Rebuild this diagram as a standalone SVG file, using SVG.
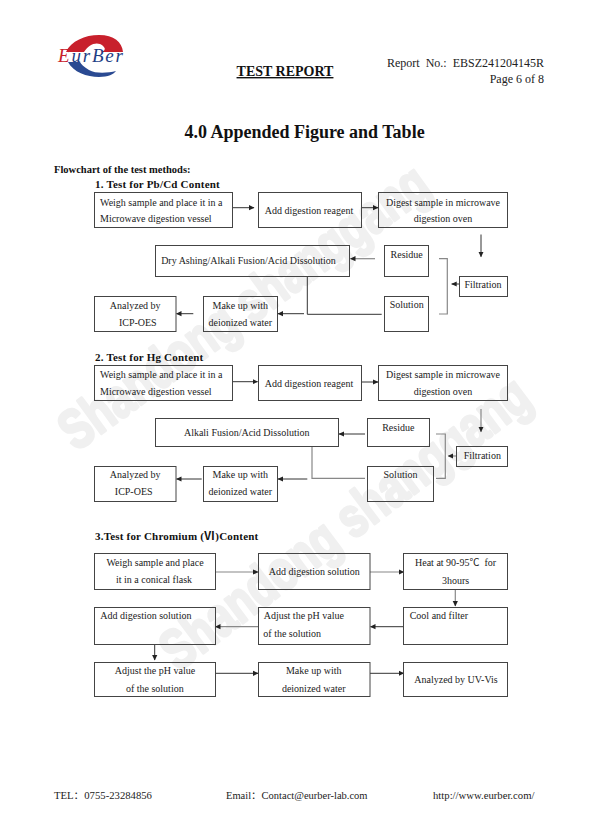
<svg xmlns="http://www.w3.org/2000/svg" width="590" height="836" viewBox="0 0 590 836">
<style>
text{font-family:"Liberation Serif","Noto Sans CJK SC",serif;fill:#222;white-space:pre}
.n text{font-size:10px}
.m{text-anchor:middle}
.n rect{fill:none;stroke:#444;stroke-width:1}
.h{font-weight:bold;font-size:11px;fill:#111;letter-spacing:.2px}
.wm{font-family:"Liberation Sans",sans-serif;font-weight:bold;font-size:56px;fill:#f0f0f0;stroke:#f0f0f0;stroke-width:3;stroke-linejoin:round}
#connectors path{fill:none;stroke:#333;stroke-width:1}
#connectors .a{marker-end:url(#ah)}
#connectors .g{stroke:#888;stroke-width:1.2}
</style>
<defs>
<marker id="ah" markerUnits="userSpaceOnUse" markerWidth="6" markerHeight="6" refX="5" refY="3" orient="auto"><path d="M0,0.400L5.500,3L0,5.600Z" fill="#222"/></marker>
</defs>
<rect width="590" height="836" fill="#fff"/>
<g id="watermark">
<text class="wm" transform="translate(76,452) rotate(-36)" textLength="442" lengthAdjust="spacingAndGlyphs">Shandong shanggang</text>
<text class="wm" transform="translate(178,672) rotate(-37)" textLength="446" lengthAdjust="spacingAndGlyphs">Shandong shanggang</text>
</g>
<g id="logo">
<path d="M66,52C71,41 85,35 99,35C114,35 122,42 123,52L101,52C108,50 104,46 100,44C95,42 88,45 84,52Z" fill="#c8202c"/>
<path d="M68,62C73,72 87,77 99,77C108,77 114,74 116,71C108,73 96,74 89,70C84,67 81,64 80,62Z" fill="#2a4a92"/>
<text x="58" y="62" style="font-size:19px;font-style:italic;fill:#1f3f86;letter-spacing:1.800px"><tspan style="fill:#c8202c">E</tspan>urBer</text>
</g>
<g id="header">
<text x="285" y="76" class="m" style="font-size:14px;font-weight:bold;text-decoration:underline;fill:#111">TEST REPORT</text>
<text x="544" y="67" text-anchor="end" style="font-size:12px">Report  No.:  EBSZ241204145R</text>
<text x="544" y="83" text-anchor="end" style="font-size:12px">Page 6 of 8</text>
<text x="304.500" y="138" class="m" style="font-size:18px;font-weight:bold;fill:#111">4.0 Appended Figure and Table</text>
<text x="54" y="173" style="font-size:10.500px;font-weight:bold;fill:#111">Flowchart of the test methods:</text>
<text x="95" y="188" class="h">1. Test for Pb/Cd Content</text>
<text x="95" y="361" class="h">2. Test for Hg Content</text>
<text x="95" y="540" class="h">3.Test for Chromium (Ⅵ)Content</text>
</g>
<g id="connectors">
<path class="a" d="M232.300,207.700H254"/>
<path class="a" d="M361.700,207.700H378"/>
<path class="a" d="M481,234.500V256.700"/>
<path class="a g" d="M375,258.700H350.500"/>
<path class="g" d="M439,258.700H447.300V314H439"/>
<path class="a" d="M459.300,284H451.700"/>
<path d="M381.700,314.300H307.300V276.300"/>
<path class="a" d="M304,313.700H278"/>
<path class="a" d="M193.300,313.700H176.500"/>
<path class="a" d="M232.300,381.700H257.500"/>
<path class="a" d="M361.700,382H378"/>
<path class="a g" d="M481,409V431.700"/>
<path class="a" d="M365,434H339"/>
<path class="g" d="M436,434H445.300V478.300H436"/>
<path class="a g" d="M456.700,456H448.300"/>
<path class="g" d="M365,478.300H312V446.300"/>
<path class="a" d="M307.300,479H278"/>
<path class="a" d="M201.700,479H176.500"/>
<path class="a g" d="M215.300,572H258"/>
<path class="a g" d="M370,572H403.700"/>
<path class="a g" d="M455.300,590V606"/>
<path class="a" d="M403.700,626.700H370.500"/>
<path class="a g" d="M258,626.700H215.500"/>
<path class="a" d="M154.700,644.700V660"/>
<path class="a" d="M215.300,673.300H258"/>
<path class="a" d="M370,673.300H403.700"/>
</g>
<g id="s1-weigh" class="n"><rect x="94.500" y="192.500" width="138" height="35"/><text x="100" y="205.700">Weigh sample and place it in a</text><text x="100" y="222.300">Microwave digestion vessel</text></g>
<g id="s1-reagent" class="n"><rect x="258.500" y="192.500" width="103" height="35"/><text x="309" y="214.300" class="m">Add digestion reagent</text></g>
<g id="s1-digest" class="n"><rect x="378.500" y="192.500" width="129" height="35"/><text x="443" y="205.700" class="m">Digest sample in microwave</text><text x="443" y="222.300" class="m">digestion oven</text></g>
<g id="s1-dry" class="n"><rect x="155.500" y="245.500" width="194" height="31"/><text x="248.500" y="264.300" class="m">Dry Ashing/Alkali Fusion/Acid Dissolution</text></g>
<g id="s1-residue" class="n"><rect x="384.500" y="245.500" width="44" height="31"/><text x="406.700" y="257.700" class="m">Residue</text></g>
<g id="s1-filtration" class="n"><rect x="459.500" y="276.500" width="48" height="20"/><text x="483" y="288.300" class="m">Filtration</text></g>
<g id="s1-solution" class="n"><rect x="384.500" y="296.500" width="44" height="35"/><text x="406.700" y="308.300" class="m">Solution</text></g>
<g id="s1-makeup" class="n"><rect x="203.500" y="296.500" width="74" height="35"/><text x="240.300" y="308.700" class="m">Make up with</text><text x="240.300" y="325.700" class="m">deionized water</text></g>
<g id="s1-icp" class="n"><rect x="94.500" y="296.500" width="81.500" height="35"/><text x="135.200" y="308.700" class="m">Analyzed by</text><text x="137.800" y="325.700" class="m">ICP-OES</text></g>
<g id="s2-weigh" class="n"><rect x="94.500" y="365.500" width="138" height="35"/><text x="100" y="378.300">Weigh sample and place it in a</text><text x="100" y="395">Microwave digestion vessel</text></g>
<g id="s2-reagent" class="n"><rect x="258.500" y="365.500" width="103" height="35"/><text x="309" y="386.700" class="m">Add digestion reagent</text></g>
<g id="s2-digest" class="n"><rect x="378.500" y="365.500" width="129" height="35"/><text x="443" y="378.300" class="m">Digest sample in microwave</text><text x="443" y="395" class="m">digestion oven</text></g>
<g id="s2-fusion" class="n"><rect x="155.500" y="418.500" width="183" height="28"/><text x="246.700" y="435.700" class="m">Alkali Fusion/Acid Dissolution</text></g>
<g id="s2-residue" class="n"><rect x="367.500" y="418.500" width="62" height="28"/><text x="398.300" y="431" class="m">Residue</text></g>
<g id="s2-filtration" class="n"><rect x="456.500" y="446.500" width="51" height="20"/><text x="482.300" y="458.700" class="m">Filtration</text></g>
<g id="s2-solution" class="n"><rect x="367.500" y="466.500" width="66" height="35"/><text x="400.500" y="478.300" class="m">Solution</text></g>
<g id="s2-makeup" class="n"><rect x="203.500" y="466.500" width="74" height="35"/><text x="240.300" y="478.300" class="m">Make up with</text><text x="240.300" y="495.300" class="m">deionized water</text></g>
<g id="s2-icp" class="n"><rect x="94.500" y="466.500" width="81.500" height="35"/><text x="135.200" y="478.300" class="m">Analyzed by</text><text x="133.700" y="495.300" class="m">ICP-OES</text></g>
<g id="s3-weigh" class="n"><rect x="94.500" y="553.500" width="121" height="36"/><text x="155" y="566" class="m">Weigh sample and place</text><text x="154" y="583.300" class="m">it in a conical flask</text></g>
<g id="s3-add" class="n"><rect x="258.500" y="553.500" width="111.500" height="36"/><text x="314.300" y="574.700" class="m">Add digestion solution</text></g>
<g id="s3-heat" class="n"><rect x="403.500" y="553.500" width="104" height="36"/><text x="415" y="566">Heat at 90-95℃  for</text><text x="455.500" y="583.700" class="m">3hours</text></g>
<g id="s3-add2" class="n"><rect x="94.500" y="607.500" width="121" height="37"/><text x="100.300" y="619.300">Add digestion solution</text></g>
<g id="s3-adjust" class="n"><rect x="258.500" y="607.500" width="111.500" height="37"/><text x="263.700" y="619.300">Adjust the pH value</text><text x="263.300" y="636.700">of the solution</text></g>
<g id="s3-cool" class="n"><rect x="403.500" y="607.500" width="104" height="37"/><text x="409.700" y="619.300">Cool and filter</text></g>
<g id="s3-adjust2" class="n"><rect x="94.500" y="662.500" width="121" height="34"/><text x="155" y="674.300" class="m">Adjust the pH value</text><text x="154.800" y="691.700" class="m">of the solution</text></g>
<g id="s3-makeup" class="n"><rect x="258.500" y="662.500" width="111.500" height="34"/><text x="313.700" y="674.300" class="m">Make up with</text><text x="313.700" y="691.700" class="m">deionized water</text></g>
<g id="s3-uv" class="n"><rect x="403.500" y="662.500" width="104" height="34"/><text x="456" y="683.300" class="m">Analyzed by UV-Vis</text></g>
<g id="footer">
<text x="54" y="799" style="font-size:10.700px">TEL：0755-23284856</text>
<text x="226" y="799" style="font-size:10.500px">Email：Contact@eurber-lab.com</text>
<text x="433" y="799" style="font-size:10.700px">http://www.eurber.com/</text>
</g>
</svg>
